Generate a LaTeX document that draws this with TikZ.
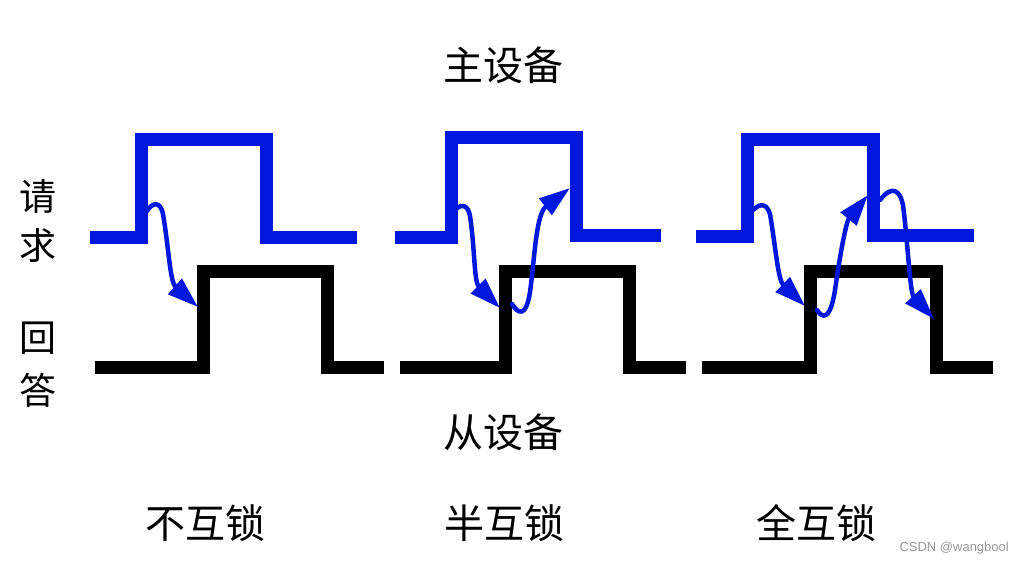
\documentclass[tikz,border=0pt]{standalone}
\usepackage{fontspec}
\setmainfont{Liberation Sans}
\newfontfamily\cjk{Noto Sans CJK SC}
\usetikzlibrary{arrows.meta}
\definecolor{sigblue}{RGB}{0,24,222}
\definecolor{wmgray}{RGB}{150,150,150}
\tikzset{
  reqwave/.style={draw=sigblue, line width=13pt, line join=miter, line cap=butt},
  ackwave/.style={draw=black, line width=13pt, line join=miter, line cap=butt},
  handshake/.style={draw=sigblue, line width=4.5pt, line cap=round,
    -{Triangle[length=31pt,width=20pt]}},
  title/.style={font=\cjk\fontsize{40}{40}\selectfont, inner sep=0pt},
  side/.style={font=\cjk\fontsize{37}{37}\selectfont, inner sep=0pt},
  wmark/.style={font=\fontsize{13}{13}\selectfont, text=wmgray, inner sep=0pt}
}
\begin{document}
\begin{tikzpicture}[x=1pt,y=-1pt]
\useasboundingbox[fill=white] (0,0) rectangle (1024,564);

% texts
\node[title] (master) at (503,65) {主设备};
\node[title] (slave) at (503,432) {从设备};
\node[side] (q1) at (38,196) {请};
\node[side] (q2) at (38,246) {求};
\node[side] (a1) at (38,338) {回};
\node[side] (a2) at (38,390) {答};
\node[title] (l1) at (205,523) {不互锁};
\node[title] (l2) at (504,523) {半互锁};
\node[title] (l3) at (816,523) {全互锁};
\node[wmark, anchor=east] (wm) at (1009,548) {CSDN @wangbool};

% panel 1
\draw[reqwave] (90,237) -- (141,237) -- (141,140) -- (266,140) -- (266,237) -- (357,237);
\draw[ackwave] (95,367) -- (203,367) -- (203,271) -- (327,271) -- (327,367) -- (384,367);
\draw[handshake] (147,211) .. controls (152,203) and (160,200) .. (163,214)
   .. controls (169,250) and (170,282) .. (198,307);

% panel 2
\draw[reqwave] (395,237) -- (451,237) -- (451,138) -- (576,138) -- (576,235) -- (661,235);
\draw[ackwave] (400,367) -- (505,367) -- (505,271) -- (629,271) -- (629,367) -- (686,367);
\draw[handshake] (457,208) .. controls (462,204) and (468,205) .. (470,216)
   .. controls (475,250) and (474,282) .. (500,308);
\draw[handshake] (512,304) .. controls (518,314) and (526,318) .. (530,292)
   .. controls (535,255) and (536,214) .. (570,188);

% panel 3
\draw[reqwave] (696,236) -- (747,236) -- (747,140) -- (873,140) -- (873,235) -- (974,235);
\draw[ackwave] (702,367) -- (810,367) -- (810,271) -- (936,271) -- (936,367) -- (993,367);
\draw[handshake] (753,210) .. controls (758,205) and (766,201) .. (770,214)
   .. controls (776,250) and (778,280) .. (805,306);
\draw[handshake] (817,310) .. controls (822,318) and (830,322) .. (835,290)
   .. controls (840,255) and (846,222) .. (868,195);
\draw[handshake] (880,200) .. controls (886,192) and (898,182) .. (903,205)
   .. controls (908,245) and (910,293) .. (934,319);
\end{tikzpicture}
\end{document}
